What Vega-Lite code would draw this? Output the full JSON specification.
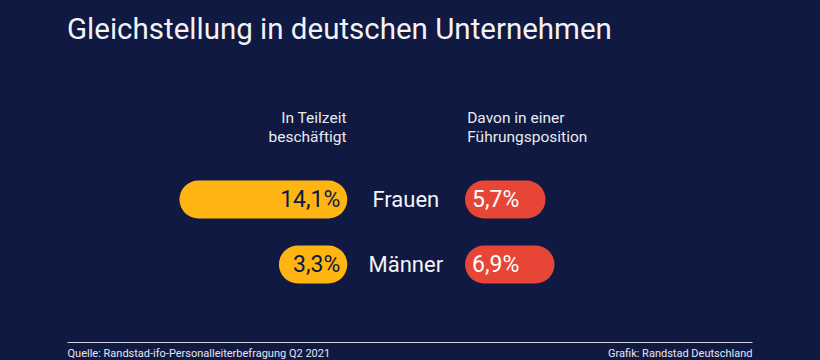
{
  "$schema": "https://vega.github.io/schema/vega-lite/v6.json",
  "width": 685,
  "height": 182,
  "autosize": {"type": "none"},
  "padding": {"left": 67, "right": 68, "top": 160, "bottom": 18},
  "background": "#0f1941",
  "title": {
    "text": "Gleichstellung in deutschen Unternehmen",
    "anchor": "start",
    "frame": "group",
    "font": "Roboto",
    "fontSize": 29.5,
    "fontWeight": "normal",
    "color": "#f2f2f5",
    "offset": 65
  },
  "data": {
    "values": [
      {"Gruppe": "Frauen", "Teilzeit": 0.141, "Fuehrung": 0.057},
      {"Gruppe": "Männer", "Teilzeit": 0.033, "Fuehrung": 0.069}
    ]
  },
  "resolve": {"scale": {"x": "independent"}, "axis": {"x": "independent"}},
  "layer": [
    {
      "layer": [
        {
          "mark": {"type": "rule", "strokeWidth": 38, "strokeCap": "round", "color": "#ffb511"},
          "encoding": {
            "x": {
              "field": "Teilzeit",
              "type": "quantitative",
              "scale": {"domain": [-0.46, 0.2837], "reverse": true, "nice": false, "zero": false},
              "axis": {
                "orient": "top",
                "title": ["In Teilzeit", "beschäftigt"],
                "labels": false,
                "ticks": false,
                "domain": false,
                "grid": false,
                "titleX": 279,
                "titleY": -37.3,
                "titleAlign": "right",
                "titleAnchor": null,
                "titleBaseline": "alphabetic",
                "titleFont": "Roboto",
                "titleFontSize": 15.5,
                "titleFontWeight": "normal",
                "titleColor": "#e9eaf0",
                "titleLineHeight": 19
              }
            },
            "x2": {"datum": 0},
            "y": {
              "field": "Gruppe",
              "type": "nominal",
              "scale": {"type": "band", "domain": ["Frauen", "Männer"], "paddingInner": 0.415, "paddingOuter": 0.6075, "align": 0.2595},
              "axis": null
            }
          }
        },
        {
          "mark": {"type": "text", "align": "right", "baseline": "middle", "dx": 12, "font": "Roboto", "fontSize": 23, "color": "#0f1941"},
          "encoding": {
            "x": {"datum": 0, "type": "quantitative"},
            "y": {"field": "Gruppe", "type": "nominal", "axis": null},
            "text": {"field": "Teilzeit", "type": "quantitative", "format": ".1%"}
          }
        }
      ]
    },
    {
      "layer": [
        {
          "mark": {"type": "rule", "strokeWidth": 38, "strokeCap": "round", "color": "#e74536"},
          "encoding": {
            "x": {
              "field": "Fuehrung",
              "type": "quantitative",
              "scale": {"domain": [-0.559, 0.3592], "nice": false, "zero": false},
              "axis": {
                "orient": "top",
                "title": ["Davon in einer", "Führungsposition"],
                "labels": false,
                "ticks": false,
                "domain": false,
                "grid": false,
                "titleX": 399.7,
                "titleY": -37.3,
                "titleAlign": "left",
                "titleAnchor": null,
                "titleBaseline": "alphabetic",
                "titleFont": "Roboto",
                "titleFontSize": 15.5,
                "titleFontWeight": "normal",
                "titleColor": "#e9eaf0",
                "titleLineHeight": 19
              }
            },
            "x2": {"datum": 0},
            "y": {"field": "Gruppe", "type": "nominal", "axis": null}
          }
        },
        {
          "mark": {"type": "text", "align": "left", "baseline": "middle", "dx": -12, "font": "Roboto", "fontSize": 23, "color": "#ffffff"},
          "encoding": {
            "x": {"datum": 0, "type": "quantitative"},
            "y": {"field": "Gruppe", "type": "nominal", "axis": null},
            "text": {"field": "Fuehrung", "type": "quantitative", "format": ".1%"}
          }
        }
      ]
    },
    {
      "mark": {"type": "text", "align": "center", "baseline": "middle", "dx": -3.7, "font": "Roboto", "fontSize": 22, "color": "#f4f4f7"},
      "encoding": {
        "x": {
          "datum": 0,
          "type": "quantitative",
          "scale": {"domain": [-1, 1], "nice": false},
          "axis": {
            "orient": "bottom",
            "values": [-1, 1],
            "labelExpr": "datum.value < 0 ? 'Quelle: Randstad-ifo-Personalleiterbefragung Q2 2021' : 'Grafik: Randstad Deutschland'",
            "labelFlush": true,
            "labelOverlap": false,
            "labelLimit": 0,
            "ticks": false,
            "tickSize": 0,
            "grid": false,
            "domain": true,
            "domainColor": "#d5d7e0",
            "domainWidth": 1,
            "labelPadding": 5,
            "labelBaseline": "top",
            "labelFont": "Roboto",
            "labelFontSize": 11,
            "labelColor": "#e6e7ee",
            "title": null
          }
        },
        "y": {"field": "Gruppe", "type": "nominal", "axis": null},
        "text": {"field": "Gruppe", "type": "nominal"}
      }
    }
  ],
  "config": {
    "view": {"stroke": null},
    "font": "Roboto",
    "locale": {
      "number": {"decimal": ",", "thousands": ".", "grouping": [3], "currency": ["", " €"]}
    }
  }
}
